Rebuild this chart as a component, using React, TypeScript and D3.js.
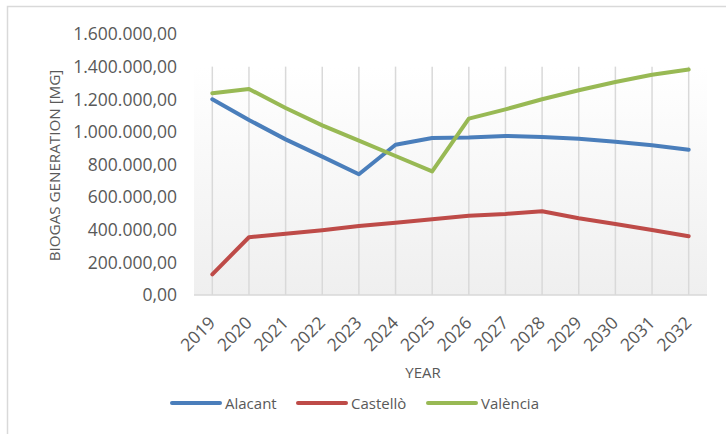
import React from "react";
import * as d3 from "d3";

const years = ["2019","2020","2021","2022","2023","2024","2025","2026","2027","2028","2029","2030","2031","2032"];
const alacant = [1200000,1073000,954000,848000,740000,921000,962000,966000,975000,968000,958000,940000,918000,891000];
const castello = [127000,354000,376000,397000,423000,443000,464000,486000,497000,513000,470000,435000,398000,360000];
const valencia = [1237000,1263000,1146000,1040000,946000,852000,758000,1081000,1138000,1200000,1255000,1306000,1350000,1382000];
const seriesNames = ["Alacant","Castellò","València"];
const seriesColors = ["#4a7ebb","#be4b48","#98b954"];
const yTicks = [0,200000,400000,600000,800000,1000000,1200000,1400000,1600000];

const W = 726, H = 434;
const plot = { left: 194, right: 707, top: 34, bottom: 295 };

const fmt = (v: number) => {
  const intPart = Math.round(v).toString().replace(/\B(?=(\d{3})+(?!\d))/g, ".");
  return intPart + ",00";
};

export default function App() {
  const x = d3.scaleBand<string>().domain(years).range([plot.left, plot.right]).padding(0);
  const cx = (d: string) => (x(d) as number) + x.bandwidth() / 2;
  const y = d3.scaleLinear().domain([0, 1600000]).range([plot.bottom, plot.top]);
  const line = d3.line<number>().x((_, i) => cx(years[i])).y((v) => y(v));
  const data = [alacant, castello, valencia];
  const font = "'Open Sans', sans-serif";
  const txt = "#595959";
  const legendX = [172, 298, 428];
  const areaTop = y(1400000);

  return (
    <svg width={W} height={H} style={{ position: "absolute", left: 0, top: 0 }} fontFamily={font}>
      <defs>
        <linearGradient id="bg" x1="0" y1="0" x2="0" y2="1">
          <stop offset="0%" stopColor="#ffffff" />
          <stop offset="100%" stopColor="#efefef" />
        </linearGradient>
      </defs>
      <rect x={0} y={0} width={W} height={H} fill="#fff" />
      <rect x={7.5} y={6.5} width={W + 10} height={H + 10} fill="none" stroke="#d9d9d9" strokeWidth={1.5} />
      <rect x={plot.left} y={areaTop} width={plot.right - plot.left} height={plot.bottom - areaTop} fill="url(#bg)" />
      {years.map((yr) => (
        <line key={yr} x1={cx(yr)} x2={cx(yr)} y1={areaTop} y2={plot.bottom} stroke="#d9d9d9" strokeWidth={1.5} />
      ))}
      <line x1={plot.left} x2={plot.right} y1={plot.bottom} y2={plot.bottom} stroke="#d9d9d9" strokeWidth={1.5} />
      {yTicks.map((t) => (
        <text key={t} x={177} y={y(t)} dy="0.36em" textAnchor="end" fontSize={17.5} fill={txt}>{fmt(t)}</text>
      ))}
      <text transform={`translate(60,165.5) rotate(-90)`} textAnchor="middle" fontSize={15.2} fill={txt}>BIOGAS GENERATION [MG]</text>
      {years.map((yr) => (
        <text key={yr} transform={`translate(${cx(yr) + 4},324) rotate(-45)`} textAnchor="end" fontSize={17.5} fill={txt}>{yr}</text>
      ))}
      <text x={423} y={378} textAnchor="middle" fontSize={15} fill={txt}>YEAR</text>
      {data.map((s, i) => (
        <path key={i} d={line(s) || ""} fill="none" stroke={seriesColors[i]} strokeWidth={4} strokeLinecap="round" strokeLinejoin="round" />
      ))}
      {seriesNames.map((n, i) => (
        <g key={n}>
          <line x1={legendX[i]} x2={legendX[i] + 48} y1={403} y2={403} stroke={seriesColors[i]} strokeWidth={4} strokeLinecap="round" />
          <text x={legendX[i] + 53} y={409} fontSize={15} fill={txt}>{n}</text>
        </g>
      ))}
    </svg>
  );
}
